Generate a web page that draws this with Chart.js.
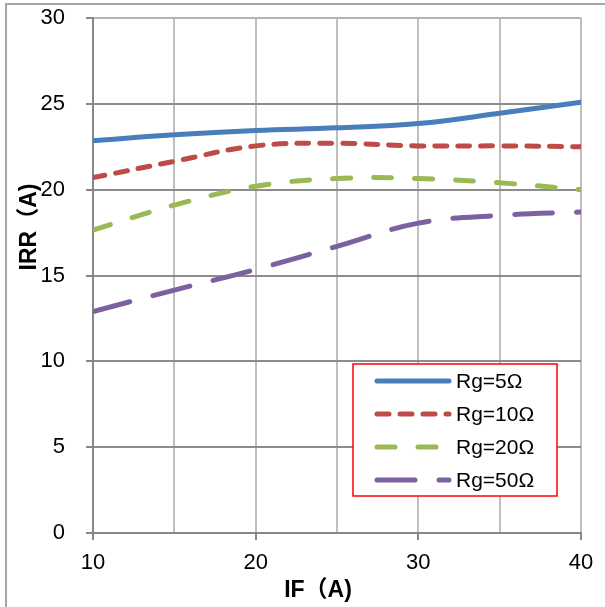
<!DOCTYPE html>
<html>
<head>
<meta charset="utf-8">
<script src="https://cdn.jsdelivr.net/npm/chart.js@4.4.1/dist/chart.umd.min.js"></script>
<style>
  body { margin: 0; background: #fff; }
  #wrap { width: 605px; height: 607px; }
</style>
</head>
<body>
<div id="wrap"><canvas id="irrChart" width="605" height="607"></canvas></div>
<script>
const xValues = [10, 15, 20, 25, 30, 35, 40];
const rg5 = [22.85, 23.2, 23.45, 23.6, 23.85, 24.45, 25.1];
const rg10 = [20.7, 21.65, 22.55, 22.7, 22.55, 22.55, 22.5];
const rg20 = [17.65, 19.1, 20.2, 20.65, 20.65, 20.4, 20.0];
const rg50 = [12.9, 14.15, 15.35, 16.7, 18.05, 18.5, 18.7];
const seriesNames = ["Rg=5Ω", "Rg=10Ω", "Rg=20Ω", "Rg=50Ω"];
const xTitle = "IF（A)";
const yTitle = "IRR（A)";

const fontFamily = '"Liberation Sans", Arial, "Noto Sans CJK SC", sans-serif';

function toPoints(values) {
  return values.map((y, i) => ({ x: xValues[i], y }));
}

function makeSeries(label, values, color, dash) {
  return {
    label,
    data: toPoints(values),
    borderColor: color,
    backgroundColor: color,
    borderWidth: 5,
    borderDash: dash,
    borderCapStyle: "round",
    pointRadius: 0,
    tension: 0.4,
    fill: false
  };
}

// outer frame, axis titles and the boxed legend
const decorations = {
  id: "decorations",
  beforeDraw(chart) {
    const ctx = chart.ctx;
    ctx.save();
    ctx.strokeStyle = "#a6a6a6";
    ctx.lineWidth = 2;
    ctx.strokeRect(6, 4, 700, 700);
    ctx.restore();
  },
  afterDraw(chart) {
    const ctx = chart.ctx;
    ctx.save();
    ctx.fillStyle = "#000";
    ctx.font = "bold 23px " + fontFamily;
    ctx.textAlign = "center";
    ctx.textBaseline = "middle";
    ctx.fillText(xTitle, 318, 591);
    ctx.translate(30, 227);
    ctx.rotate(-Math.PI / 2);
    ctx.fillText(yTitle, 0, 0);
    ctx.restore();

    const box = { left: 353, top: 364, width: 204, height: 132 };
    ctx.save();
    ctx.fillStyle = "#fff";
    ctx.fillRect(box.left, box.top, box.width, box.height);
    ctx.strokeStyle = "#ff0000";
    ctx.lineWidth = 1.5;
    ctx.strokeRect(box.left, box.top, box.width, box.height);
    ctx.font = "21px " + fontFamily;
    ctx.textBaseline = "middle";
    ctx.textAlign = "left";
    chart.data.datasets.forEach((ds, i) => {
      const y = box.top + 17 + i * 33;
      ctx.strokeStyle = ds.borderColor;
      ctx.lineWidth = ds.borderWidth;
      ctx.lineCap = "round";
      ctx.setLineDash(ds.borderDash);
      ctx.beginPath();
      ctx.moveTo(377, y);
      ctx.lineTo(449, y);
      ctx.stroke();
      ctx.setLineDash([]);
      ctx.fillStyle = "#000";
      ctx.fillText(ds.label, 456, y + 1);
    });
    ctx.restore();
  }
};

new Chart(document.getElementById("irrChart"), {
  type: "line",
  data: {
    datasets: [
      makeSeries(seriesNames[0], rg5, "#4a7ebb", []),
      makeSeries(seriesNames[1], rg10, "#be4b48", [12, 11]),
      makeSeries(seriesNames[2], rg20, "#98b954", [18, 23]),
      makeSeries(seriesNames[3], rg50, "#7d60a0", [38, 24])
    ]
  },
  options: {
    responsive: false,
    animation: false,
    layout: { padding: { top: 18, right: 24, bottom: 0, left: 0 } },
    plugins: {
      legend: { display: false },
      tooltip: { enabled: false }
    },
    scales: {
      x: {
        type: "linear",
        min: 10,
        max: 40,
        afterFit: (scale) => {
          scale.height = 74;
          scale.paddingLeft = 0;
          scale.paddingRight = 0;
        },
        ticks: {
          stepSize: 5,
          padding: 10,
          color: "#000",
          font: { family: fontFamily, size: 22 },
          maxRotation: 0,
          callback: (v) => (v % 10 === 0 ? v : "")
        },
        grid: {
          color: "#bfbfbf",
          lineWidth: 2,
          tickLength: 7,
          tickColor: (c) => (c.tick && c.tick.value % 10 === 0 ? "#878787" : "rgba(0,0,0,0)")
        },
        border: { color: "#878787", width: 2 }
      },
      y: {
        min: 0,
        max: 30,
        afterFit: (scale) => {
          scale.width = 93;
          scale.paddingTop = 0;
          scale.paddingBottom = 0;
        },
        ticks: {
          stepSize: 5,
          padding: 21,
          color: "#000",
          font: { family: fontFamily, size: 22 }
        },
        grid: {
          color: (c) => (c.tick && c.tick.value === 30 ? "#b3b3b3" : "#8c8c8c"),
          lineWidth: 2,
          tickLength: 7,
          tickColor: "#878787"
        },
        border: { color: "#878787", width: 2 }
      }
    }
  },
  plugins: [decorations]
});
</script>
</body>
</html>
